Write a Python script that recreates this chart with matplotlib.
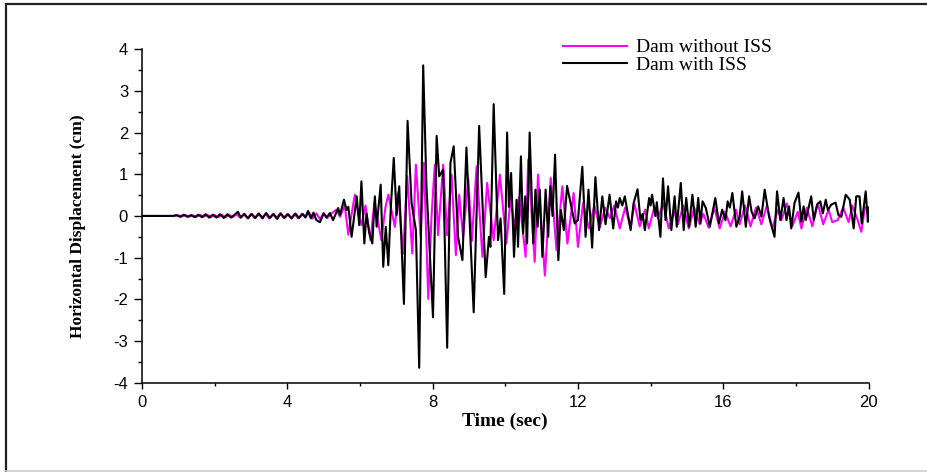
import numpy as np
import matplotlib
matplotlib.use('Agg')
import matplotlib.pyplot as plt
from matplotlib.lines import Line2D
from matplotlib.ticker import MultipleLocator

plt.rcParams['axes.unicode_minus'] = False

# (time in sec, displacement in cm), peaks and troughs
sin_iss = [(0, 0), (0.9, 0), (1.0, 0.015), (1.1, -0.015), (1.2, 0.02), (1.3, -0.02), (1.4, 0.015),
           (1.5, -0.02), (1.6, 0.025), (1.7, -0.02), (1.8, 0.03), (1.9, -0.03), (2.0, 0.025),
           (2.1, -0.03), (2.2, 0.03), (2.3, -0.035), (2.4, 0.03), (2.5, -0.03), (2.6, 0.04),
           (2.7, -0.04), (2.8, 0.04), (2.9, -0.05), (3.0, 0.04), (3.1, -0.05), (3.2, 0.05),
           (3.3, -0.04), (3.4, 0.05), (3.5, -0.06), (3.6, 0.04), (3.7, -0.05), (3.8, 0.06),
           (3.9, -0.04), (4.0, 0.05), (4.1, -0.05), (4.2, 0.04), (4.3, -0.06), (4.4, 0.05),
           (4.5, -0.04), (4.6, 0.08), (4.7, -0.06), (4.8, 0.06), (4.9, -0.08), (5.0, 0.07),
           (5.1, -0.05), (5.2, 0.05), (5.35, 0.15), (5.45, -0.02), (5.58, 0.25), (5.68, -0.45),
           (5.78, 0.1), (5.86, 0.51), (5.95, 0.05), (6.04, -0.22), (6.15, 0.25), (6.29, -0.58),
           (6.40, 0.35), (6.50, -0.15), (6.59, -0.58), (6.70, 0.2), (6.78, 0.51), (6.96, -0.26),
           (7.05, 0.55), (7.19, -0.90), (7.30, 0.95), (7.44, -0.90), (7.54, 1.23), (7.67, -0.50),
           (7.76, 1.27), (7.88, -1.99), (7.97, 0.0), (8.06, 1.23), (8.15, -0.46), (8.29, 1.23),
           (8.40, -0.46), (8.52, 0.99), (8.64, -0.94), (8.73, 0.51), (8.84, -0.50), (8.98, 0.90),
           (9.08, -0.60), (9.21, 1.19), (9.37, -0.98), (9.50, 0.79), (9.68, -0.58), (9.85, 0.99),
           (10.03, -0.66), (10.15, 0.45), (10.25, -0.30), (10.38, 0.45), (10.56, -0.98),
           (10.63, 1.35), (10.81, -1.10), (10.90, 0.99), (11.09, -1.43), (11.25, 0.91),
           (11.41, -0.82), (11.57, 0.71), (11.71, -0.66), (11.88, 0.55), (12.00, -0.74),
           (12.14, 0.31), (12.30, -0.30), (12.45, 0.25), (12.60, -0.28), (12.75, 0.20),
           (12.88, -0.05), (13.00, 0.25), (13.15, -0.30), (13.30, 0.20), (13.45, -0.28),
           (13.55, 0.30), (13.70, -0.25), (13.85, 0.15), (13.95, -0.30), (14.10, 0.20),
           (14.20, -0.05), (14.35, 0.30), (14.50, -0.30), (14.65, 0.10), (14.75, -0.20),
           (14.90, 0.25), (15.05, -0.30), (15.20, 0.20), (15.35, -0.20), (15.45, 0.05),
           (15.60, -0.28), (15.75, 0.20), (15.90, -0.30), (16.05, 0.10), (16.20, -0.25),
           (16.35, 0.15), (16.45, -0.20), (16.60, 0.25), (16.75, -0.25), (16.90, 0.20),
           (17.05, -0.20), (17.20, 0.25), (17.35, -0.30), (17.50, 0.15), (17.60, -0.10),
           (17.75, 0.30), (17.90, -0.25), (18.05, 0.10), (18.15, -0.30), (18.30, 0.20),
           (18.45, -0.25), (18.60, 0.30), (18.75, -0.20), (18.90, 0.15), (19.00, -0.15),
           (19.15, -0.10), (19.30, 0.20), (19.45, -0.15), (19.55, 0.25), (19.70, -0.10),
           (19.80, -0.38), (19.90, 0.20), (20.0, 0.20)]

con_iss = [(0, 0), (0.85, 0), (0.95, 0.02), (1.05, -0.02), (1.15, 0.03), (1.25, -0.02), (1.35, 0.02),
           (1.45, -0.03), (1.55, 0.03), (1.65, -0.03), (1.75, 0.04), (1.85, -0.04), (1.95, 0.03),
           (2.05, -0.04), (2.15, 0.04), (2.25, -0.05), (2.35, 0.04), (2.45, -0.04), (2.55, 0.03),
           (2.64, 0.10), (2.72, -0.04), (2.82, 0.05), (2.92, -0.06), (3.02, 0.05), (3.12, -0.05),
           (3.22, 0.06), (3.32, -0.06), (3.42, 0.07), (3.52, -0.05), (3.62, 0.05), (3.72, -0.07),
           (3.82, 0.06), (3.92, -0.05), (4.02, 0.04), (4.12, -0.06), (4.22, 0.06), (4.32, -0.05),
           (4.42, 0.05), (4.50, -0.03), (4.57, 0.12), (4.65, -0.06), (4.72, 0.08), (4.80, -0.10),
           (4.90, -0.15), (5.00, 0.06), (5.08, -0.04), (5.17, 0.07), (5.26, -0.10), (5.40, 0.19),
           (5.45, 0.02), (5.56, 0.39), (5.63, 0.14), (5.68, 0.22), (5.77, -0.50), (5.91, 0.47),
           (5.98, -0.22), (6.04, 0.83), (6.12, -0.66), (6.18, 0.06), (6.25, -0.38), (6.34, -0.66),
           (6.41, 0.47), (6.46, -0.26), (6.57, 0.75), (6.64, -1.22), (6.71, -0.26), (6.78, -1.18),
           (6.85, 0.22), (6.93, 1.39), (7.01, 0.02), (7.08, 0.71), (7.21, -2.11), (7.31, 2.28),
           (7.42, 0.31), (7.54, -0.34), (7.63, -3.64), (7.74, 3.61), (7.83, 0.71), (8.01, -2.43),
           (8.11, 1.92), (8.18, 0.95), (8.29, 1.11), (8.40, -3.16), (8.49, 1.27), (8.58, 1.67),
           (8.70, -0.50), (8.82, -1.06), (8.93, 1.64), (9.13, -2.31), (9.28, 2.16), (9.46, -1.47),
           (9.55, -0.50), (9.59, -0.74), (9.68, 2.68), (9.80, -0.58), (9.87, -0.06), (9.97, -1.87),
           (10.05, 2.00), (10.10, 0.22), (10.16, 1.03), (10.24, -0.98), (10.31, 0.39),
           (10.35, -0.74), (10.43, 1.43), (10.49, -0.42), (10.55, 0.47), (10.60, -0.66),
           (10.67, 2.00), (10.77, -0.66), (10.83, 0.63), (10.89, -0.26), (10.95, 0.63),
           (11.02, -0.98), (11.11, 0.63), (11.18, -0.50), (11.24, 0.71), (11.30, 0.00),
           (11.37, 1.47), (11.46, -1.06), (11.53, 0.14), (11.61, -0.34), (11.70, 0.72),
           (11.80, 0.30), (11.91, -0.18), (12.00, -0.10), (12.12, 1.18), (12.21, -0.50),
           (12.29, 0.63), (12.39, -0.76), (12.48, 0.93), (12.58, -0.34), (12.67, 0.47),
           (12.76, -0.20), (12.87, 0.51), (12.97, -0.30), (13.05, 0.35), (13.10, 0.20),
           (13.15, 0.43), (13.22, 0.25), (13.29, 0.47), (13.45, -0.34), (13.53, 0.30),
           (13.64, 0.64), (13.72, -0.10), (13.78, 0.05), (13.84, -0.34), (13.96, 0.43),
           (14.00, 0.25), (14.04, 0.51), (14.13, 0.00), (14.17, 0.33), (14.27, -0.50),
           (14.34, 0.90), (14.41, -0.10), (14.48, 0.71), (14.57, -0.34), (14.66, 0.47),
           (14.72, -0.26), (14.83, 0.79), (14.91, -0.34), (14.98, 0.43), (15.06, -0.26),
           (15.15, 0.51), (15.24, -0.26), (15.31, 0.43), (15.37, -0.18), (15.43, 0.35),
           (15.52, 0.19), (15.63, -0.26), (15.78, 0.43), (15.88, -0.18), (15.97, 0.15),
           (16.06, -0.10), (16.12, 0.35), (16.18, 0.20), (16.25, 0.55), (16.36, -0.26),
           (16.45, -0.02), (16.52, 0.59), (16.62, -0.26), (16.71, 0.47), (16.78, 0.10),
           (16.86, -0.06), (16.96, 0.23), (17.05, -0.02), (17.14, 0.63), (17.26, -0.02),
           (17.41, -0.50), (17.48, 0.59), (17.57, -0.10), (17.66, 0.43), (17.74, -0.10),
           (17.81, 0.23), (17.87, -0.30), (17.96, 0.31), (18.07, 0.56), (18.15, -0.14),
           (18.21, 0.23), (18.27, -0.10), (18.42, 0.47), (18.49, -0.10), (18.58, 0.27),
           (18.67, 0.35), (18.74, 0.06), (18.82, 0.39), (18.88, 0.14), (18.97, 0.27),
           (19.09, 0.32), (19.17, 0.02), (19.25, -0.02), (19.37, 0.51), (19.48, 0.39),
           (19.59, -0.30), (19.66, 0.47), (19.75, 0.47), (19.81, -0.18), (19.92, 0.59),
           (19.98, -0.14), (20.0, 0.20)]

etiquetas = ['Dam without ISS', 'Dam with ISS']
colores = ['#ff00ff', 'black']

t_sin, d_sin = np.array(sin_iss).T
t_con, d_con = np.array(con_iss).T

fig = plt.figure(figsize=(9.28, 4.72), dpi=100)
ax = fig.add_axes([0.153, 0.189, 0.783, 0.707])

ax.plot(t_sin, d_sin, color=colores[0], lw=1.5, label=etiquetas[0], solid_joinstyle='round')
ax.plot(t_con, d_con, color=colores[1], lw=1.5, label=etiquetas[1], solid_joinstyle='round')

ax.set_xlim(0, 20)
ax.set_ylim(-4, 4)
ax.xaxis.set_major_locator(MultipleLocator(4))
ax.xaxis.set_minor_locator(MultipleLocator(2))
ax.yaxis.set_major_locator(MultipleLocator(1))
ax.yaxis.set_minor_locator(MultipleLocator(0.5))

for lado in ['top', 'right']:
    ax.spines[lado].set_visible(False)
for lado in ['left', 'bottom']:
    ax.spines[lado].set_linewidth(1.1)

ax.tick_params(axis='y', which='major', length=6, width=1, direction='out', pad=4)
ax.tick_params(axis='y', which='minor', length=3, width=1, direction='out')
ax.tick_params(axis='x', which='major', length=4, width=1, direction='out', pad=5)
ax.tick_params(axis='x', which='minor', length=2.5, width=1, direction='out')
for lbl in ax.get_xticklabels() + ax.get_yticklabels():
    lbl.set_family('Liberation Sans')
    lbl.set_fontsize(12)

ax.set_xlabel('Time (sec)', family='Liberation Serif', fontweight='bold', fontsize=14)
ax.set_ylabel('Horizontal Displacement (cm)', family='Liberation Serif', fontweight='bold', fontsize=12.5)
ax.xaxis.set_label_coords(0.5, -0.09)
ax.yaxis.set_label_coords(-0.077, 0.47)

ax.legend(loc='upper left', bbox_to_anchor=(0.607, 0.918), bbox_transform=fig.transFigure,
          frameon=False, prop={'family': 'Liberation Serif', 'size': 14},
          handlelength=3.3, handletextpad=0.45, labelspacing=0.0, borderpad=0, borderaxespad=0)

# marco exterior de la imagen
fig.add_artist(Line2D([0.007, 1.0], [0.992, 0.992], color='#222222', lw=1.6, transform=fig.transFigure))
fig.add_artist(Line2D([0.007, 0.007], [0.002, 0.992], color='#222222', lw=1.6, transform=fig.transFigure))
fig.add_artist(Line2D([0.007, 1.0], [0.002, 0.002], color='#cccccc', lw=1.2, transform=fig.transFigure))

fig.savefig('out.png', dpi=100)
